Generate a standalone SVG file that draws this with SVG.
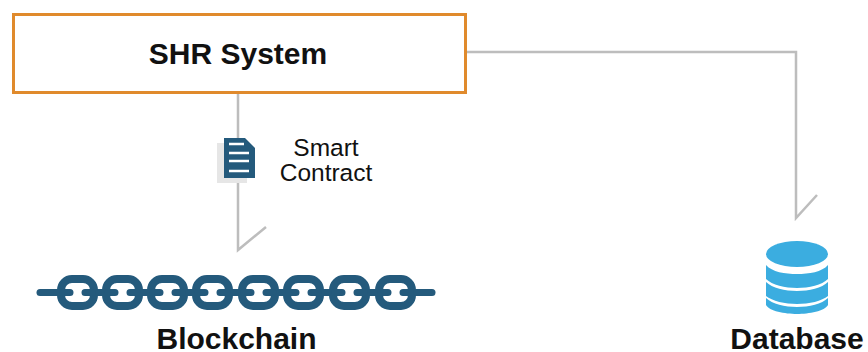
<svg xmlns="http://www.w3.org/2000/svg" width="868" height="352" viewBox="0 0 868 352">
<style>
.conn{fill:none;stroke:#bdbdbd;stroke-width:2.5}
.t{font-family:"Liberation Sans",Arial,sans-serif;fill:#111}
.b{font-weight:bold;font-size:30px}
.s{font-size:24.500px}
.lk{fill:#fff;stroke:#245a7c;stroke-width:8}
.nub{stroke:#245a7c;stroke-width:7;stroke-linecap:round}
.db{fill:#3bade0}
</style>
<defs>
<g id="link">
<rect class="lk" x="4" y="-13.500" width="33" height="27" rx="11"/>
<path class="nub" d="M6 0H13M28 0H35"/>
</g>
</defs>
<rect width="868" height="352" fill="#fff"/>
<g id="connectors">
<path class="conn" d="M238 92V250L266 227"/>
<path class="conn" d="M466 52H796V218L817 195"/>
</g>
<g id="shr-system">
<rect x="13.500" y="14.500" width="452" height="78" fill="#fff" stroke="#e08a2c" stroke-width="3"/>
<text class="t b" x="238" y="64" text-anchor="middle">SHR System</text>
</g>
<g id="smart-contract">
<rect x="217" y="143" width="30" height="40" fill="#e6e6e6"/>
<path d="M224 138H245L255 148V178H224Z" fill="#245a7c"/>
<path d="M229 144H244M229 153H249M229 161H249M229 171H249" stroke="#fff" stroke-width="2.500"/>
<text class="t s" x="326" y="156" text-anchor="middle">Smart</text>
<text class="t s" x="326" y="181" text-anchor="middle">Contract</text>
</g>
<g id="blockchain">
<path d="M40 292.500H432" stroke="#245a7c" stroke-width="7" stroke-linecap="round"/>
<g id="links">
<use href="#link" x="57" y="292.500"/>
<use href="#link" x="102" y="292.500"/>
<use href="#link" x="147" y="292.500"/>
<use href="#link" x="192" y="292.500"/>
<use href="#link" x="238" y="292.500"/>
<use href="#link" x="283" y="292.500"/>
<use href="#link" x="329" y="292.500"/>
<use href="#link" x="375" y="292.500"/>
</g>
<text class="t b" x="236.500" y="348.500" text-anchor="middle">Blockchain</text>
</g>
<g id="database">
<ellipse class="db" cx="797" cy="254" rx="31" ry="13"/>
<path class="db" d="M766 265C772 272 785 274 797 274C809 274 822 272 828 265V279C822 285 809 288 797 288C785 288 772 285 766 279Z"/>
<path class="db" d="M766 282C772 288 785 291 797 291C809 291 822 288 828 282V296C822 301 809 304 797 304C785 304 772 301 766 296Z"/>
<path class="db" d="M766 298C772 304 785 307 797 307C809 307 822 304 828 298V305C825 311 809 314 797 314C785 314 769 311 766 305Z"/>
<text class="t b" x="797" y="348.500" text-anchor="middle">Database</text>
</g>
</svg>
